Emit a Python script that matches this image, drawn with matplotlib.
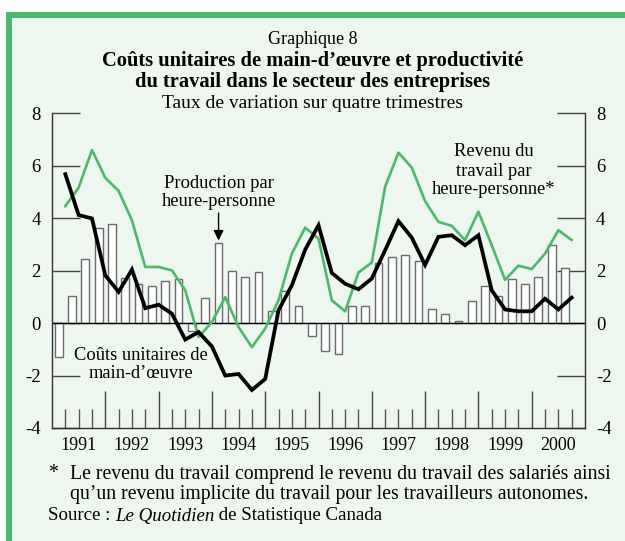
import matplotlib
matplotlib.use("Agg")
import matplotlib.pyplot as plt
from matplotlib.patches import Rectangle

# --- Données (taux de variation sur quatre trimestres, %) ---
annees = ["1991", "1992", "1993", "1994", "1995", "1996", "1997", "1998", "1999", "2000"]

# Production par heure-personne (barres), 1991T1 .. 2000T3
production = [-1.30, 1.02, 2.46, 3.64, 3.77, 1.73, 1.50, 1.40, 1.60, 1.70,
              -0.31, 0.97, 3.07, 1.97, 1.77, 1.95, 0.47, 1.24, 0.66, -0.51,
              -1.07, -1.17, 0.65, 0.65, 2.31, 2.52, 2.59, 2.38, 0.55, 0.36,
              0.08, 0.83, 1.40, 1.02, 1.67, 1.48, 1.76, 2.98, 2.12]

# Coûts unitaires de main-d'oeuvre (ligne noire)
couts = [5.68, 4.12, 3.99, 1.82, 1.19, 2.04, 0.57, 0.70, 0.36, -0.63,
         -0.34, -0.89, -2.00, -1.94, -2.55, -2.13, 0.49, 1.44, 2.80, 3.73,
         1.91, 1.50, 1.29, 1.70, 2.78, 3.89, 3.26, 2.22, 3.29, 3.35,
         2.97, 3.35, 1.25, 0.52, 0.45, 0.45, 0.93, 0.52, 0.97]

# Revenu du travail par heure-personne (ligne verte)
revenu = [4.46, 5.17, 6.60, 5.54, 5.04, 3.92, 2.14, 2.14, 2.01, 1.25,
          -0.53, 0.04, 0.99, -0.15, -0.92, -0.21, 0.87, 2.65, 3.64, 3.22,
          0.87, 0.45, 1.93, 2.31, 5.20, 6.50, 5.93, 4.65, 3.86, 3.71,
          3.16, 4.25, 2.97, 1.65, 2.19, 2.06, 2.65, 3.54, 3.17]

VERT = "#4cb86a"
FOND = "#edf7ef"
POLICE = "Liberation Serif"

W, H = 625, 541


def fx(px):
    return px / W


def fy(py):
    return 1 - py / H


fig = plt.figure(figsize=(6.25, 5.41), dpi=100)
fig.patch.set_facecolor("white")
fig.patches.append(Rectangle((fx(9), -0.2), 1.2, fy(15) + 0.2, transform=fig.transFigure,
                             facecolor=FOND, edgecolor=VERT, linewidth=4.3, zorder=-5))

ax = fig.add_axes([fx(52), fy(428), fx(585) - fx(52), fy(113.3) - fy(428)])
ax.set_facecolor("none")
ax.set_zorder(2)

x_barres = [i + 0.5 for i in range(len(production))]
x_lignes = [i + 1 for i in range(len(couts))]

ax.bar(x_barres, production, width=0.58, facecolor="white", edgecolor="#6a6a6a",
       linewidth=1.0, zorder=2)
ax.axhline(0, color="black", linewidth=1.0, zorder=2.5)
ax.plot(x_lignes, revenu, color=VERT, linewidth=1.9, zorder=3)
ax.plot(x_lignes, couts, color="black", linewidth=2.7, zorder=4, solid_joinstyle="miter")

ax.set_xlim(0, 40)
ax.set_ylim(-4, 8)

ax.spines["top"].set_visible(False)
for cote in ["left", "right", "bottom"]:
    ax.spines[cote].set_color("#333333")
    ax.spines[cote].set_linewidth(1.0)

# axe des y, graduations intérieures des deux côtés
ax.set_yticks(range(-4, 9, 2))
ax.set_yticklabels([str(v) for v in range(-4, 9, 2)], fontfamily=POLICE, fontsize=13.5)
ax.tick_params(axis="y", direction="in", length=20, width=1.0, color="#444444",
               left=True, right=True, labelleft=True, labelright=True, pad=8)

# axe des x : trimestres et années
ax.set_xticks([k for k in range(4, 40, 4)])
ax.set_xticks([k for k in range(1, 40) if k % 4 != 0], minor=True)
ax.tick_params(axis="x", which="major", direction="in", length=27, width=1.0,
               color="#444444", labelbottom=False)
ax.tick_params(axis="x", which="minor", direction="in", length=13.5, width=1.0,
               color="#555555")
for k, an in enumerate(annees):
    ax.text(2 + 4 * k, -0.03, an, transform=ax.get_xaxis_transform(), ha="center",
            va="top", fontfamily=POLICE, fontsize=13)

# annotations
ax.annotate("", xy=(12.5, 3.15), xytext=(12.5, 4.2),
            arrowprops=dict(arrowstyle="-|>", color="black", lw=1.0,
                            mutation_scale=15, shrinkA=0, shrinkB=0), zorder=5)
fig.text(fx(219), fy(183), "Production par", ha="center", va="center",
         fontfamily=POLICE, fontsize=13.3)
fig.text(fx(219), fy(201), "heure-personne", ha="center", va="center",
         fontfamily=POLICE, fontsize=13.3)

for ligne, yy in zip(["Revenu du", "travail par", "heure-personne*"], [152, 171, 189]):
    fig.text(fx(494), fy(yy), ligne, ha="center", va="center",
             fontfamily=POLICE, fontsize=13.3)

for ligne, yy in zip(["Coûts unitaires de", "main-d\u2019œuvre"], [355, 374]):
    fig.text(fx(141), fy(yy), ligne, ha="center", va="center",
             fontfamily=POLICE, fontsize=13.3, zorder=6)

# titres
fig.text(0.5, fy(40), "Graphique 8", ha="center", va="center",
         fontfamily=POLICE, fontsize=13)
fig.text(0.5, fy(61), "Coûts unitaires de main-d\u2019œuvre et productivité",
         ha="center", va="center", fontfamily=POLICE, fontsize=14.8, fontweight="bold")
fig.text(0.5, fy(82), "du travail dans le secteur des entreprises",
         ha="center", va="center", fontfamily=POLICE, fontsize=14.8, fontweight="bold")
fig.text(0.5, fy(104), "Taux de variation sur quatre trimestres", ha="center", va="center",
         fontfamily=POLICE, fontsize=14)

# notes
TAILLE_NOTE = 14.2
fig.text(fx(48), fy(474), "*", ha="left", va="center", fontfamily=POLICE,
         fontsize=TAILLE_NOTE)
fig.text(fx(70), fy(474),
         "Le revenu du travail comprend le revenu du travail des salariés ainsi",
         ha="left", va="center", fontfamily=POLICE, fontsize=TAILLE_NOTE)
fig.text(fx(70), fy(495),
         "qu\u2019un revenu implicite du travail pour les travailleurs autonomes.",
         ha="left", va="center", fontfamily=POLICE, fontsize=TAILLE_NOTE)

# ligne source : morceaux placés l'un après l'autre (italique au milieu)
renderer = fig.canvas.get_renderer()
x_courant = 48
for morceau, style in [("Source : ", "normal"), ("Le Quotidien", "italic"),
                       (" de Statistique Canada", "normal")]:
    t = fig.text(fx(x_courant), fy(516), morceau, ha="left", va="center",
                 fontfamily=POLICE, fontsize=13.6, fontstyle=style)
    x_courant += t.get_window_extent(renderer).width

fig.savefig("out.png", dpi=100, facecolor=fig.get_facecolor())
